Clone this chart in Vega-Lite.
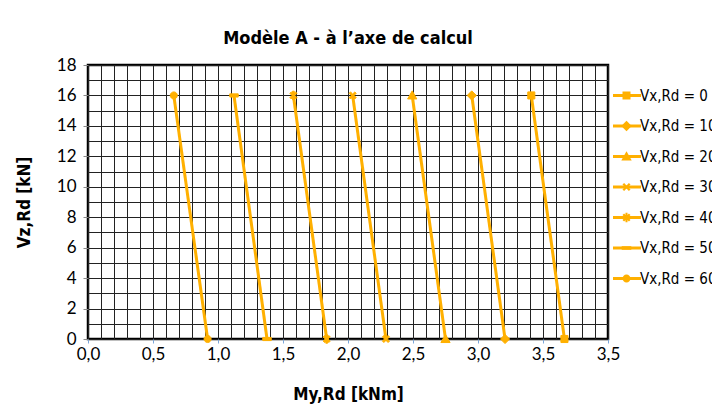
{
  "$schema": "https://vega.github.io/schema/vega-lite/v6.json",
  "autosize": {"type": "none"},
  "padding": {"left": 88, "top": 65, "right": 104, "bottom": 71},
  "width": 520,
  "height": 274,
  "background": "white",
  "title": {"text": "Modèle A - à l’axe de calcul", "font": "DejaVu Sans Condensed, Roboto, sans-serif", "fontWeight": "bold", "fontSize": 18, "color": "black", "anchor": "middle", "offset": 8},
  "data": {"values": [
    {"V": 0, "M": 3.41, "Vz": 16}, {"V": 0, "M": 3.665, "Vz": 0},
    {"V": 10, "M": 2.952, "Vz": 16}, {"V": 10, "M": 3.208, "Vz": 0},
    {"V": 20, "M": 2.494, "Vz": 16}, {"V": 20, "M": 2.75, "Vz": 0},
    {"V": 30, "M": 2.036, "Vz": 16}, {"V": 30, "M": 2.292, "Vz": 0},
    {"V": 40, "M": 1.58, "Vz": 16}, {"V": 40, "M": 1.836, "Vz": 0},
    {"V": 50, "M": 1.123, "Vz": 16}, {"V": 50, "M": 1.377, "Vz": 0},
    {"V": 60, "M": 0.66, "Vz": 16}, {"V": 60, "M": 0.92, "Vz": 0}
  ]},
  "encoding": {
    "x": {"field": "M", "type": "quantitative", "scale": {"domain": [0, 4], "nice": false, "zero": false},
      "axis": {
        "values": [0,0.1,0.2,0.3,0.4,0.5,0.6,0.7,0.8,0.9,1,1.1,1.2,1.3,1.4,1.5,1.6,1.7,1.8,1.9,2,2.1,2.2,2.3,2.4,2.5,2.6,2.7,2.8,2.9,3,3.1,3.2,3.3,3.4,3.5,3.6,3.7,3.8,3.9,4],
        "title": "My,Rd [kNm]",
        "labelExpr": "abs(datum.value*2 - round(datum.value*2)) < 0.001 ? (datum.value > 3.9 ? '3,5' : replace(format(datum.value, '.1f'), '.', ',')) : ''",
        "grid": true, "gridColor": "#222222", "gridWidth": 1, "gridOpacity": 1,
        "domain": false,
        "ticks": true, "tickColor": "#7DA7D9", "tickSize": 4,
        "tickOpacity": {"condition": {"test": "abs(datum.value*2 - round(datum.value*2)) < 0.001", "value": 1}, "value": 0},
        "labelFont": "Lato", "labelFontSize": 17, "labelColor": "black", "labelPadding": 3,
        "labelFlush": false, "labelOverlap": false,
        "titleFont": "DejaVu Sans Condensed, Roboto, sans-serif", "titleFontSize": 17, "titleFontWeight": "bold", "titleColor": "black", "titlePadding": 24
      }},
    "y": {"field": "Vz", "type": "quantitative", "scale": {"domain": [0, 18], "nice": false},
      "axis": {
        "values": [0,1,2,3,4,5,6,7,8,9,10,11,12,13,14,15,16,17,18],
        "title": "Vz,Rd [kN]",
        "labelExpr": "datum.value % 2 == 0 ? datum.label : ''",
        "grid": true, "gridColor": "#222222", "gridWidth": 1, "gridOpacity": 1,
        "domain": false,
        "ticks": true, "tickColor": "#888888", "tickSize": 5,
        "tickOpacity": {"condition": {"test": "datum.value % 2 == 0", "value": 1}, "value": 0},
        "labelFont": "Lato", "labelFontSize": 17, "labelColor": "black", "labelPadding": 7,
        "labelOverlap": false, "labelFlush": false,
        "titleFont": "DejaVu Sans Condensed, Roboto, sans-serif", "titleFontSize": 17, "titleFontWeight": "bold", "titleColor": "black", "titlePadding": 23
      }}
  },
  "layer": [
    {"mark": {"type": "line", "strokeWidth": 3},
     "encoding": {
       "color": {"field": "V", "type": "ordinal",
         "scale": {"range": ["#FFB000", "#FFB000", "#FFB000", "#FFB000", "#FFB000", "#FFB000", "#FFB000"]},
         "legend": {
           "orient": "none", "legendX": 531.5, "legendY": 23, "title": null,
           "symbolType": "M-4,0H4", "symbolSize": 49, "symbolStrokeWidth": 3, "symbolStrokeColor": "#FFB000",
           "labelFont": "DejaVu Sans Condensed, Roboto, sans-serif", "labelFontSize": 15, "labelOpacity": 0, "labelColor": "transparent",
           "rowPadding": 14.5, "labelOffset": 6
         }}
     }},
    {"mark": {"type": "point", "filled": true, "fill": "#FFB000", "stroke": "#FFB000", "strokeWidth": 1, "size": 50, "opacity": 1},
     "encoding": {
       "shape": {"field": "V", "type": "ordinal",
         "scale": {"domain": [0, 10, 20, 30, 40, 50, 60],
           "range": ["M-1,-1H1V1H-1Z", "M0,-1.3L1.3,0L0,1.3L-1.3,0Z", "M0,-1.3L1.3,1H-1.3Z", "M-1,-0.6L-0.6,-1L0,-0.4L0.6,-1L1,-0.6L0.4,0L1,0.6L0.6,1L0,0.4L-0.6,1L-1,0.6L-0.4,0Z", "M-1,-0.6L-0.6,-1L0,-0.4L0.6,-1L1,-0.6L0.4,0L1,0.6L0.6,1L0,0.4L-0.6,1L-1,0.6L-0.4,0ZM-0.25,-1.2H0.25V1.2H-0.25Z", "M-1.2,-0.45H1.2V0.45H-1.2Z", "M1,0A1,1,0,1,1,-1,0A1,1,0,1,1,1,0Z"]},
         "legend": {
           "orient": "none", "legendX": 531, "legendY": 23, "title": null,
           "labelExpr": "'Vx,Rd = ' + datum.label",
           "labelFont": "DejaVu Sans Condensed, Roboto, sans-serif", "labelFontSize": 15, "labelColor": "black", "labelLimit": 300,
           "symbolSize": 64, "rowPadding": 14.5, "labelOffset": 6,
           "symbolFillColor": "#FFB000", "symbolStrokeColor": "#FFB000", "symbolStrokeWidth": 1, "symbolOpacity": 1
         }}
     }}
  ],
  "config": {"view": {"stroke": "black", "strokeWidth": 2.5}}
}
